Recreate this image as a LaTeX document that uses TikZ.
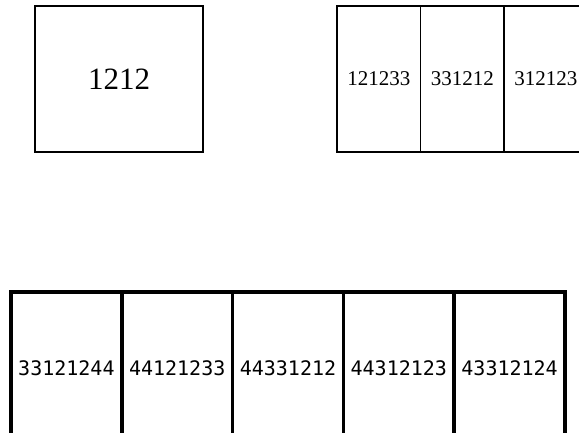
\documentclass[tikz,border=0pt]{standalone}
\usepackage{fontspec}
\setmainfont{Liberation Serif}
\newfontfamily\cellfont{DejaVu Sans Mono}
\usetikzlibrary{positioning}

\begin{document}
\begin{tikzpicture}[
    x=1pt, y=-1pt,
    cell/.style={rectangle, draw, inner sep=0pt, outer sep=0pt, line width=1.6pt},
    single/.style={cell, minimum width=168pt, minimum height=146pt, font=\fontsize{31}{31}\selectfont},
    pair/.style={cell, minimum width=83.5pt, minimum height=146pt, font=\fontsize{21}{21}\selectfont},
    quad/.style={cell, line width=3.6pt, minimum width=110.8pt, minimum height=152pt, font=\cellfont\fontsize{20}{20}\selectfont},
]
\useasboundingbox[fill=white] (0,0) rectangle (579,433);

% Single block
\node[single] (s1) at (119,79) {1212};

% Three cells, top right
\node[pair] (p1) at (378.75,79) {121233};
\node[pair, right=0pt of p1] (p2) {331212};
\node[pair, right=0pt of p2] (p3) {312123};

% Five cells, bottom row
\node[quad] (q1) at (66.4,368) {33121244};
\node[quad, right=0pt of q1] (q2) {44121233};
\node[quad, right=0pt of q2] (q3) {44331212};
\node[quad, right=0pt of q3] (q4) {44312123};
\node[quad, right=0pt of q4] (q5) {43312124};

\end{tikzpicture}
\end{document}
